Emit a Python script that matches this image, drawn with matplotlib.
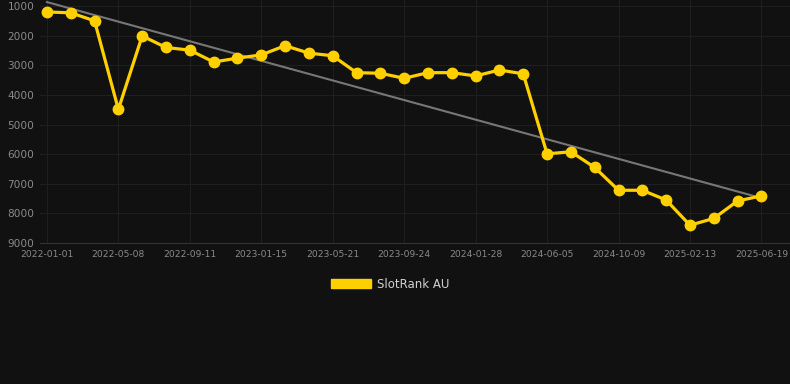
import numpy as np
import matplotlib.pyplot as plt
from matplotlib.patches import Patch

# SlotRank AU rank over time (lower number = better rank)
dates = ["2022-01-01", "2022-05-08", "2022-09-11", "2023-01-15", "2023-05-21", "2023-09-24",
         "2024-01-28", "2024-06-05", "2024-10-09", "2025-02-13", "2025-06-19"]
ranks = [1200, 1230, 1500, 4490, 2010, 2400, 2490, 2890, 2760, 2650, 2340,
         2590, 2680, 3250, 3270, 3440, 3250, 3250, 3360, 3160, 3290,
         5990, 5920, 6450, 7220, 7220, 7550, 8400, 8170, 7580, 7410]

x = np.arange(len(ranks))
# linear trend line through the ranks
coef = np.polyfit(x, ranks, 1)

bg = "#111111"
fig = plt.figure(figsize=(7.9, 3.84), dpi=100, facecolor=bg)
ax = fig.add_axes([40/790, 1-243/384, 750/790, 243/384])
ax.set_facecolor(bg)

ax.plot(x, np.polyval(coef, x), color="#777777", lw=1.5, zorder=2)
ax.plot(x, ranks, color="#FFD000", lw=2.3, marker="o", ms=7.5, zorder=3)

ax.set_xlim(-0.29, 31.2)
ax.set_ylim(9000, 797)
ax.set_yticks(range(1000, 9001, 1000))
ax.set_xticks(x[::3])
ax.set_xticklabels(dates)
ax.grid(color="#1f1f1f", lw=0.8)
ax.tick_params(axis="y", colors="#8a8a8a", labelsize=7.6, length=0, pad=4)
ax.tick_params(axis="x", colors="#8a8a8a", labelsize=6.6, length=0, pad=5)
for s in ["top", "right", "left"]:
    ax.spines[s].set_visible(False)
ax.spines["bottom"].set_color("#333333")

leg = fig.legend(handles=[Patch(color="#FFD000", label="SlotRank AU")],
                 loc="center", bbox_to_anchor=(390/790, 1-284/384), frameon=False,
                 handlelength=3.4, handleheight=0.9, handletextpad=0.5,
                 fontsize=8.5, labelcolor="#d0d0d0")

fig.savefig("out.png", dpi=100, facecolor=bg)
